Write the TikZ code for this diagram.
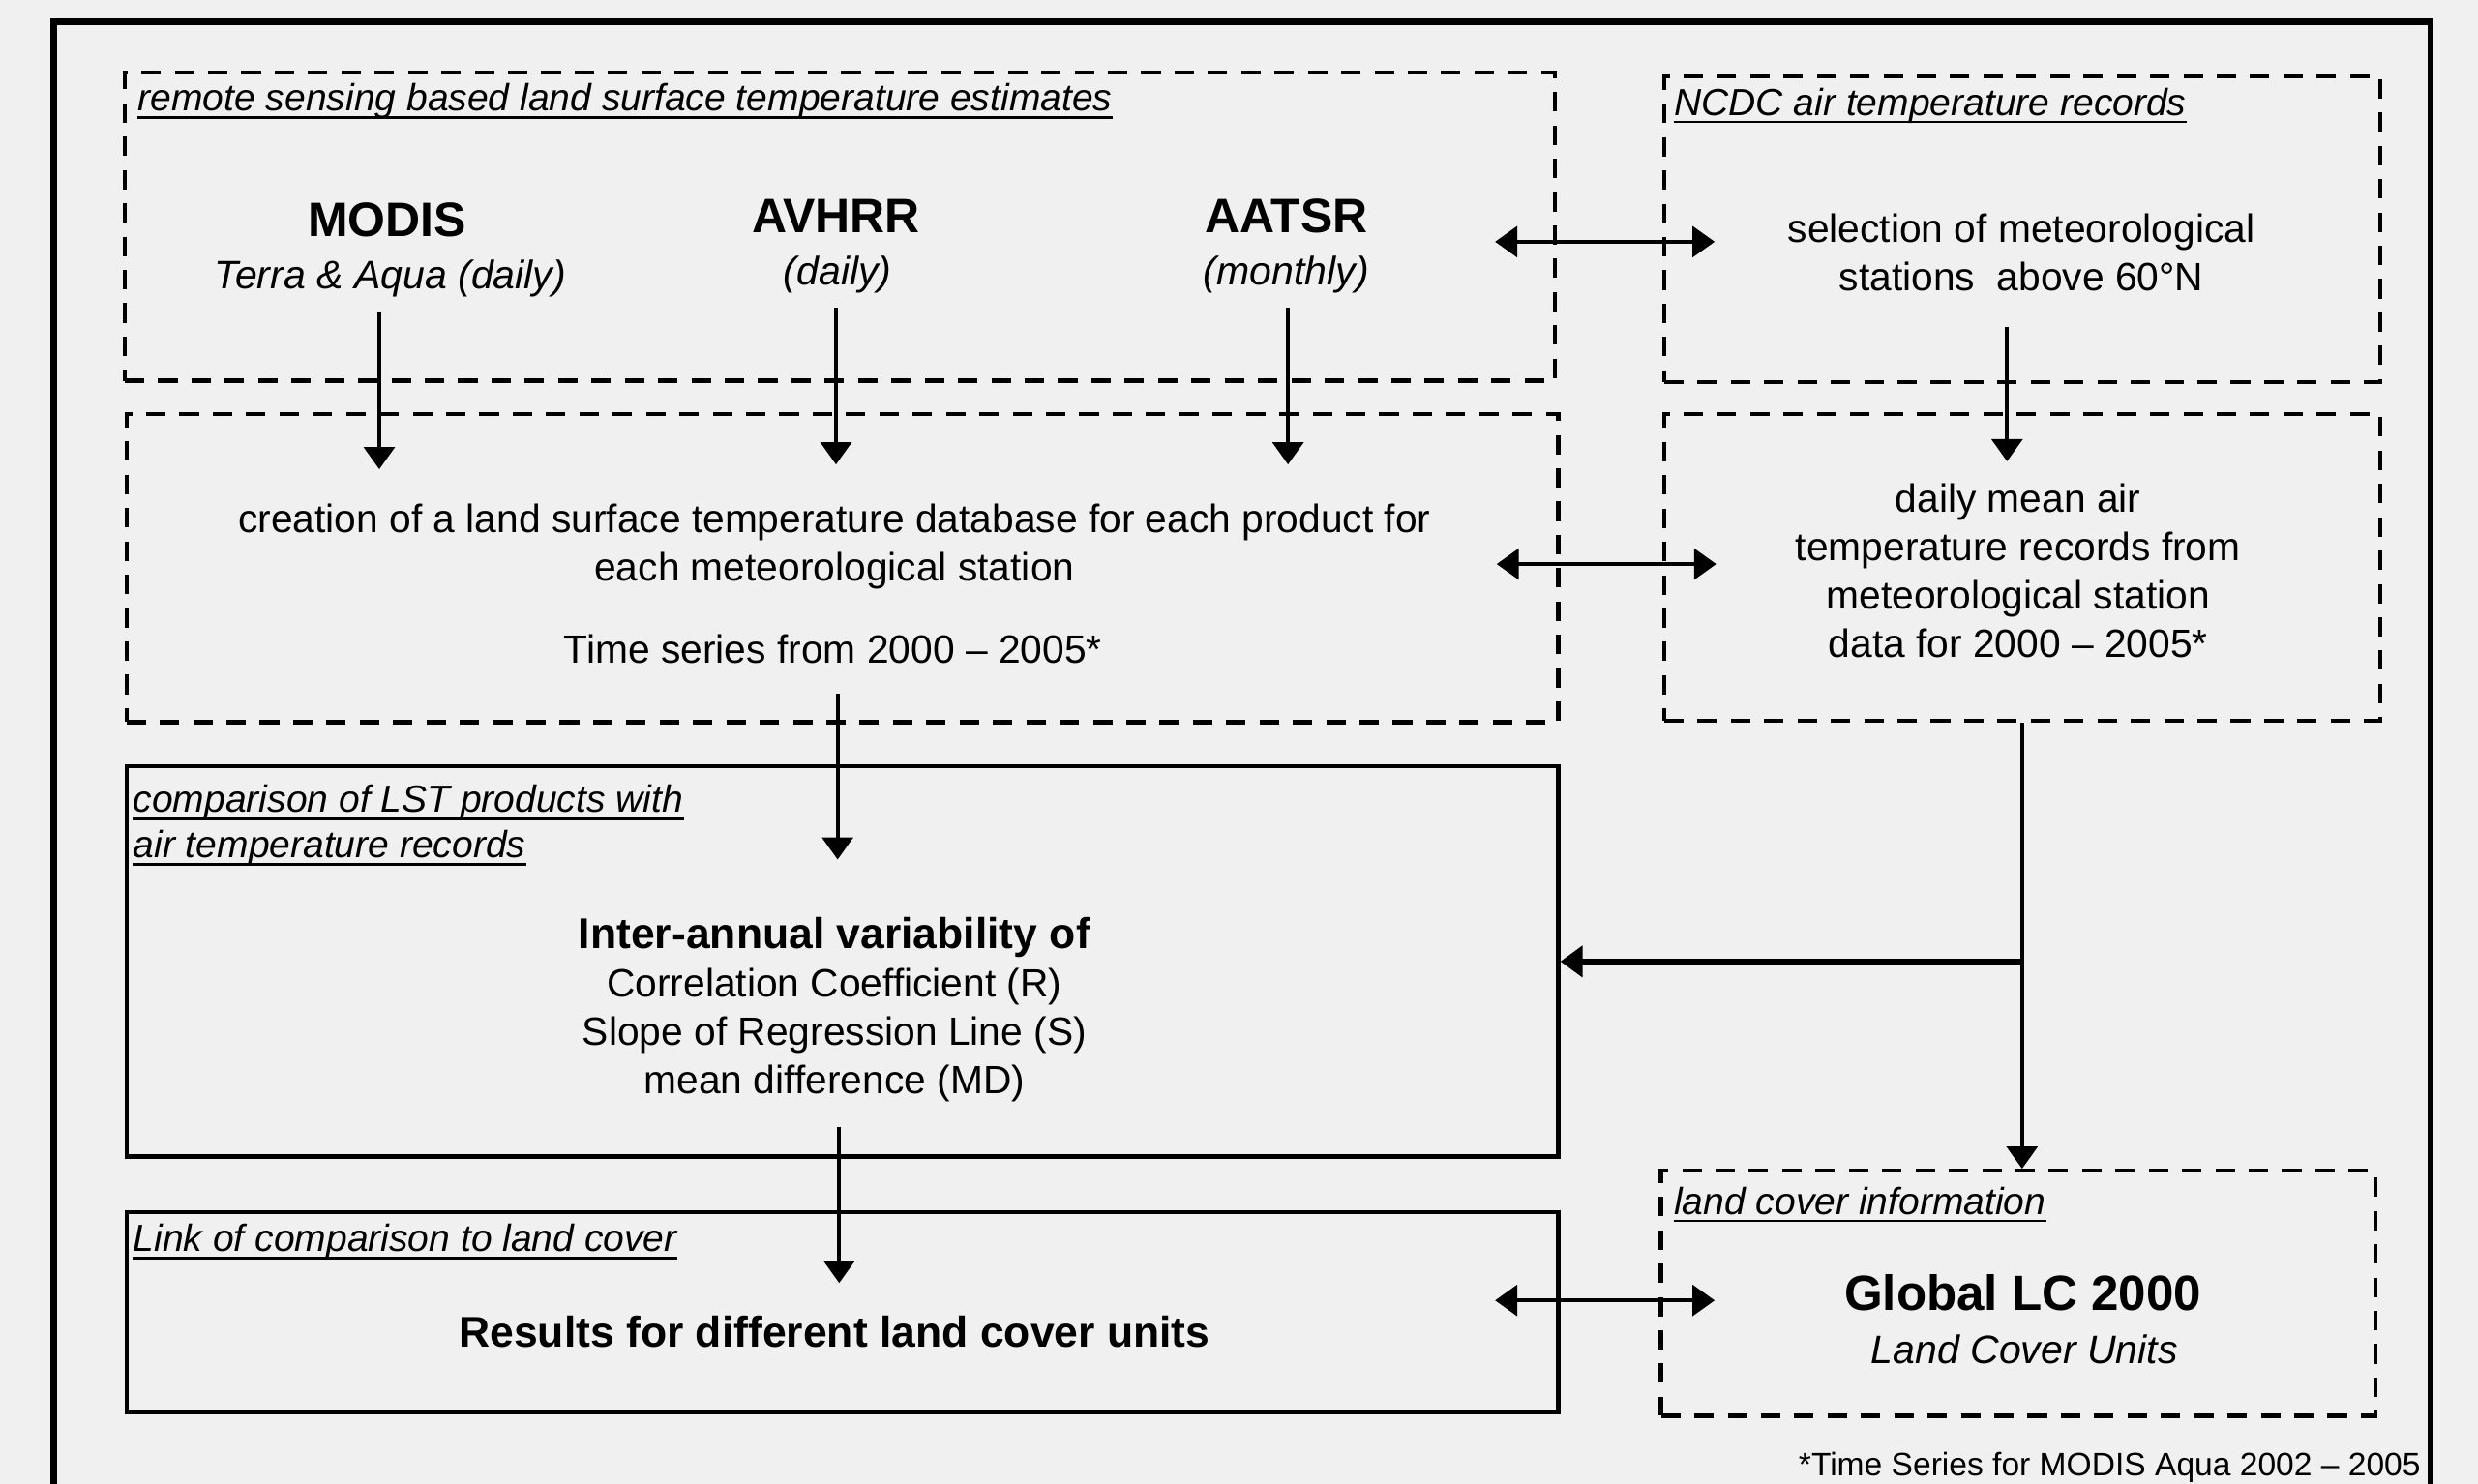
\documentclass[tikz,border=0pt]{standalone}
\usepackage{fontspec}
\setmainfont{Liberation Sans}
\usepackage{xcolor}
\usepackage{tikz}
\usetikzlibrary{arrows.meta,positioning}
\tikzset{>={Triangle[length=8pt,width=11pt]}}
\definecolor{paper}{RGB}{240,240,240}
\newcommand{\fs}[1]{\fontsize{#1}{1.2\dimexpr#1pt\relax}\selectfont}

\begin{document}
\begin{tikzpicture}[
                    dashbox/.style={draw, line width=1.5pt, dash pattern=on 7pt off 5pt},
                    solidbox/.style={draw, line width=1.5pt},
                    heading/.style={anchor=base west, inner sep=0pt, font=\fs{13.6}\itshape},
                    body/.style={align=center, inner sep=0pt, font=\fontsize{14.2}{17.4}\selectfont},
                    sensor/.style={inner sep=0pt, font=\fs{17.4}\bfseries},
                    freq/.style={inner sep=0pt, font=\fs{14.3}\itshape},
                    flow/.style={line width=1.5pt, ->},
                    twoway/.style={line width=1.5pt, <->},
                   ]

\fill[paper] (0,0) rectangle (31.36,18.78);
\useasboundingbox (0,0) rectangle (31.36,18.78);
\draw[line width=2.4pt] (0.68,-0.5) rectangle (30.76,18.5);

\node[dashbox, minimum width=18.1cm, minimum height=3.9cm] (rs) at (10.63,15.91) {};
\node[dashbox, minimum width=9.06cm, minimum height=3.88cm] (ncdc) at (25.59,15.88) {};
\node[dashbox, minimum width=18.12cm, minimum height=3.9cm] (lstdb) at (10.66,11.59) {};
\node[dashbox, minimum width=9.06cm, minimum height=3.88cm] (airdb) at (25.59,11.6) {};
\node[solidbox, minimum width=18.12cm, minimum height=4.94cm] (comp) at (10.66,6.61) {};
\node[solidbox, minimum width=18.12cm, minimum height=2.54cm] (result) at (10.66,2.17) {};
\node[dashbox, minimum width=9.04cm, minimum height=3.1cm] (lc) at (25.54,2.41) {};

\node[heading] (rstitle) at (1.74,17.38) {remote sensing based land surface temperature estimates};
\node[heading] (ncdctitle) at (21.18,17.32) {NCDC air temperature records};
\node[heading] (comptitle) at (1.68,8.5) {comparison of LST products with};
\node[heading] (comptitleb) at (1.68,7.92) {air temperature records};
\node[heading] (resulttitle) at (1.68,2.94) {Link of comparison to land cover};
\node[heading] (lctitle) at (21.18,3.41) {land cover information};
\foreach \t in {rstitle,ncdctitle,comptitle,comptitleb,resulttitle,lctitle}
  \draw[line width=0.9pt] ([yshift=-2.4pt]\t.base west) -- ([yshift=-2.4pt]\t.base east);

\node[sensor] (modis) at (4.9,16.0) {MODIS};
\node[freq] (modisf) at (4.94,15.26) {Terra \& Aqua (daily)};
\node[sensor] (avhrr) at (10.58,16.04) {AVHRR};
\node[freq] (avhrrf) at (10.6,15.3) {(daily)};
\node[sensor] (aatsr) at (16.28,16.04) {AATSR};
\node[freq] (aatsrf) at (16.28,15.3) {(monthly)};

\node[body] (selection) at (25.58,15.58) {selection of meteorological\\stations~ above 60°N};
\node[body] (creation) at (10.56,11.86) {creation of a land surface temperature database for each product for\\each meteorological station};
\node[body] (timeseries) at (10.54,10.56) {Time series from 2000 -- 2005*};
\node[body] (dailymean) at (25.54,11.56) {daily mean air\\temperature records from\\meteorological station\\data for 2000 -- 2005*};
\node[body] (variab) at (10.56,6.0) {{\fs{15.5}\bfseries Inter-annual variability of}\\Correlation Coefficient (R)\\Slope of Regression Line (S)\\mean difference (MD)};
\node[inner sep=0pt, font=\fs{15.5}\bfseries] (results) at (10.56,1.92) {Results for different land cover units};
\node[inner sep=0pt, font=\fs{17.8}\bfseries] (globallc) at (25.6,2.42) {Global LC 2000};
\node[freq] (lcunits) at (25.62,1.7) {Land Cover Units};
\node[anchor=base east, inner sep=0pt, font=\fs{11.7}] (note) at (30.64,0.1) {*Time Series for MODIS Aqua 2002 -- 2005};

\coordinate (modisout) at (4.8,14.82);
\coordinate (modisin) at (4.8,12.84);
\coordinate (avhrrout) at (10.58,14.88);
\coordinate (avhrrin) at (10.58,12.9);
\coordinate (aatsrout) at (16.3,14.88);
\coordinate (aatsrin) at (16.3,12.9);
\coordinate (ncdcout) at (25.4,14.64);
\coordinate (ncdcin) at (25.4,12.94);
\coordinate (lstout) at (10.6,10.0);
\coordinate (compin) at (10.6,7.9);
\coordinate (compout) at (10.62,4.52);
\coordinate (resultin) at (10.62,2.54);
\coordinate (rsside) at (18.92,15.72);
\coordinate (ncdcside) at (21.7,15.72);
\coordinate (lstside) at (18.94,11.64);
\coordinate (airside) at (21.72,11.64);
\coordinate (resultside) at (18.92,2.32);
\coordinate (lcside) at (21.7,2.32);

\draw[flow] (modisout) -- (modisin);
\draw[flow] (avhrrout) -- (avhrrin);
\draw[flow] (aatsrout) -- (aatsrin);
\draw[flow] (ncdcout) -- (ncdcin);
\draw[flow] (lstout) -- (compin);
\draw[flow] (compout) -- (resultin);
\draw[twoway] (rsside) -- (ncdcside);
\draw[twoway] (lstside) -- (airside);
\draw[twoway] (resultside) -- (lcside);
\draw[flow] (airdb.south) -- (airdb.south |- lc.north);
\draw[line width=2.2pt, ->] (airdb.south |- comp.east) -- (comp.east);

\end{tikzpicture}
\end{document}
